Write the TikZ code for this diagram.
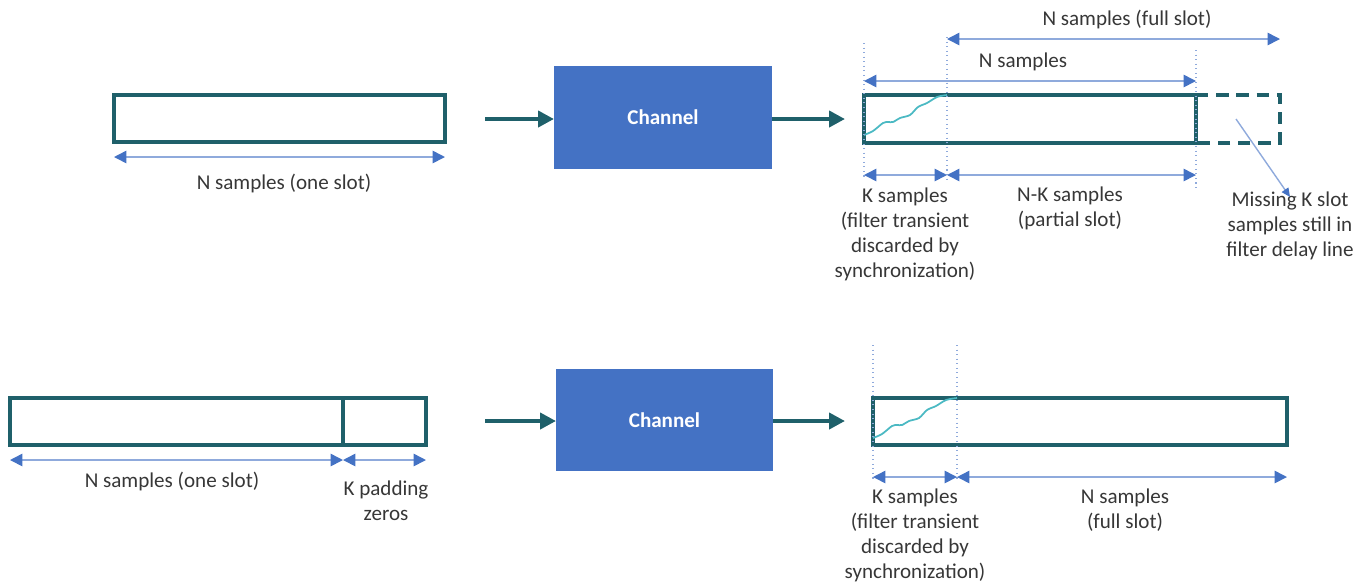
\documentclass[tikz,border=0pt]{standalone}
\usepackage{fontspec}
\setmainfont{Carlito}
\usetikzlibrary{arrows.meta}
\definecolor{teal1}{RGB}{31,96,106}
\definecolor{chblue}{RGB}{68,114,196}
\definecolor{dimline}{RGB}{143,170,220}
\definecolor{dimtip}{RGB}{68,114,196}
\definecolor{wave}{RGB}{75,185,195}
\definecolor{txt}{RGB}{55,55,55}
\begin{document}
\begin{tikzpicture}[x=0.02cm,y=-0.02cm,
 slot/.style={draw=teal1,line width=2pt,inner sep=0pt,outer sep=0pt},
 chan/.style={fill=chblue,inner sep=0pt,outer sep=0pt,text=white,font=\fontsize{12}{14}\selectfont\bfseries},
 flow/.style={draw=teal1,line width=2.4pt,-{Triangle[length=9pt,width=9pt]}},
 dim/.style={draw=dimline,line width=0.9pt,{Triangle[length=7pt,width=7pt,color=dimtip]}-{Triangle[length=7pt,width=7pt,color=dimtip]}},
 pointer/.style={draw=dimline,line width=0.8pt,-{Triangle[length=5pt,width=4.5pt,color=dimtip]}},
 guide/.style={draw=dimline,line width=0.6pt,dotted},
 wavy/.style={draw=wave,line width=1pt},
 lbl/.style={text=txt,align=center,font=\fontsize{12}{14.2}\selectfont,inner sep=0pt},
 ]
\useasboundingbox (0,0) rectangle (1369,583);

% ---------------- top row ----------------
\node[slot,minimum width=331*0.02cm,minimum height=47*0.02cm] (s1) at (279.5,118.5) {};
\node[chan,minimum width=218*0.02cm,minimum height=103*0.02cm] (ch1) at (663,117.5) {Channel};
\node[slot,minimum width=332*0.02cm,minimum height=48*0.02cm] (r1) at (1030,119) {};
\coordinate (a1) at (485,119);
\coordinate (b1) at (845,119);
\draw[flow] (a1) -- (ch1.west |- a1);
\draw[flow] (ch1.east |- b1) -- (b1);

% dashed missing part
\draw[teal1,line width=2pt,dash pattern=on 7pt off 4.5pt] (r1.north east) -- (1280,95) -- (1280,143) -- (r1.south east);

% wave
\draw[wavy] plot[smooth,tension=0.5] coordinates {(864,135) (873,131) (883,123) (888,122) (893,122) (900,118) (910,115) (918,107) (927,103) (937,97) (947,95)};

% guides
\coordinate (g1t) at (864,43);  \coordinate (g1b) at (864,180);
\coordinate (g2t) at (947,37);  \coordinate (g2b) at (947,182);
\coordinate (g3t) at (1196,50); \coordinate (g3b) at (1196,188);
\draw[guide] (g1t) -- (g1b);
\draw[guide] (g2t) -- (g2b);
\draw[guide] (g3t) -- (g3b);

% dimension arrows
\coordinate (d1l) at (114,157); \coordinate (d1r) at (445,157);
\draw[dim] (d1l) -- (d1r);
\node[lbl] (t1) at (284,183) {N samples (one slot)};

\coordinate (fsl) at (947,39); \coordinate (fsr) at (1280,39);
\draw[dim] (fsl) -- (fsr);
\node[lbl] (t2) at (1127,19) {N samples (full slot)};

\coordinate (nsl) at (864,81); \coordinate (nsr) at (1196,81);
\draw[dim] (nsl) -- (nsr);
\node[lbl] (t3) at (1023,62) {N samples};

\coordinate (k1l) at (864,175); \coordinate (k1m) at (947,175); \coordinate (k1r) at (1196,175);
\draw[dim] (k1l) -- (k1m);
\draw[dim] (k1m) -- (k1r);
\node[lbl] (t4) at (905,234) {K samples\\(filter transient\\discarded by\\synchronization)};
\node[lbl] (t5) at (1070,208) {N-K samples\\(partial slot)};
\node[lbl] (t6) at (1290,226) {Missing K slot\\samples still in\\filter delay line};
\coordinate (p1) at (1236,119);
\draw[pointer] (p1) -- ([yshift=-3pt]t6.north);

% ---------------- bottom row ----------------
\node[slot,minimum width=333*0.02cm,minimum height=47*0.02cm] (s2) at (176.5,421.5) {};
\node[slot,minimum width=83*0.02cm,minimum height=47*0.02cm] (z2) at (384.5,421.5) {};
\node[chan,minimum width=217*0.02cm,minimum height=102*0.02cm] (ch2) at (664.5,420) {Channel};
\node[slot,minimum width=414*0.02cm,minimum height=47*0.02cm] (r2) at (1080,421.5) {};
\coordinate (a2) at (485,421);
\coordinate (b2) at (845,421);
\draw[flow] (a2) -- (ch2.west |- a2);
\draw[flow] (ch2.east |- b2) -- (b2);

\draw[wavy] plot[smooth,tension=0.5] coordinates {(873,438) (882,434) (892,426) (897,425) (902,425) (909,421) (919,418) (927,410) (936,406) (946,400) (957,398)};

\coordinate (g4t) at (873,345); \coordinate (g4b) at (873,480);
\coordinate (g5t) at (957,345); \coordinate (g5b) at (957,480);
\draw[guide] (g4t) -- (g4b);
\draw[guide] (g5t) -- (g5b);

\coordinate (d2l) at (10,460); \coordinate (d2m) at (343,460); \coordinate (d2r) at (426,460);
\draw[dim] (d2l) -- (d2m);
\draw[dim] (d2m) -- (d2r);
\node[lbl] (t7) at (172,481) {N samples (one slot)};
\node[lbl] (t8) at (386,501) {K padding\\zeros};

\coordinate (k2l) at (873,477); \coordinate (k2m) at (957,477); \coordinate (k2r) at (1287,477);
\draw[dim] (k2l) -- (k2m);
\draw[dim] (k2m) -- (k2r);
\node[lbl] (t9) at (915,535) {K samples\\(filter transient\\discarded by\\synchronization)};
\node[lbl] (t10) at (1125,510) {N samples\\(full slot)};
\end{tikzpicture}
\end{document}
